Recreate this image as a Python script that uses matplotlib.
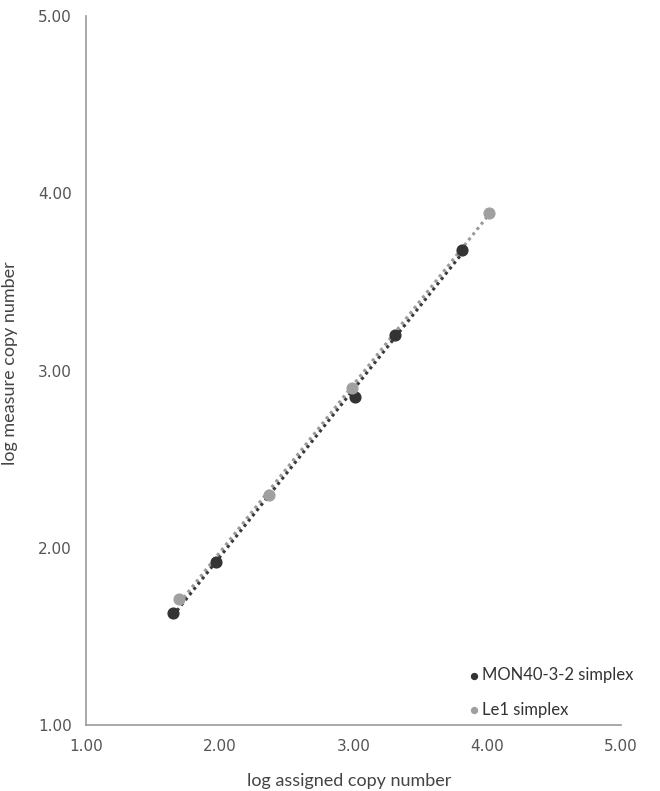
import numpy as np
import matplotlib
matplotlib.use('Agg')
import matplotlib.pyplot as plt

# log assigned / measured copy numbers
mon_x = [1.65, 1.97, 3.01, 3.31, 3.81]
mon_y = [1.63, 1.92, 2.85, 3.20, 3.68]
le1_x = [1.70, 2.37, 2.99, 4.01]
le1_y = [1.71, 2.30, 2.90, 3.89]

ticks = [1.0, 2.0, 3.0, 4.0, 5.0]

fig = plt.figure(figsize=(6.6, 7.91), dpi=100)
ax = fig.add_axes([0.130, 0.0834, 0.811, 0.8964])

# trend lines
p = np.polyfit(le1_x, le1_y, 1)
xx = np.array([min(le1_x), max(le1_x)])
ax.plot(xx, np.polyval(p, xx), ls=(0, (1, 1.2)), c='#9a9a9a', lw=2.2, zorder=2)
p = np.polyfit(mon_x, mon_y, 1)
xx = np.array([min(mon_x), max(mon_x)])
ax.plot(xx, np.polyval(p, xx), ls=(0, (1, 1.2)), c='#3a3a3a', lw=2.2, zorder=3)

ax.scatter(mon_x, mon_y, s=60, c='#333333', edgecolors='#333333', label='MON40-3-2 simplex', zorder=4)
ax.scatter(le1_x, le1_y, s=60, c='#a0a0a0', edgecolors='#a0a0a0', label='Le1 simplex', zorder=4)

ax.set_xlim(1, 5)
ax.set_ylim(1, 5)
ax.set_xticks(ticks)
ax.set_yticks(ticks)
ax.set_xticklabels(['%.2f' % t for t in ticks])
ax.set_yticklabels(['%.2f' % t for t in ticks])
ax.tick_params(length=0, labelsize=11, colors='#555555', pad=10)
for s in ['top', 'right']:
    ax.spines[s].set_visible(False)
for s in ['left', 'bottom']:
    ax.spines[s].set_color('#999999')
    ax.spines[s].set_linewidth(1.2)

ax.set_xlabel('log assigned copy number', fontsize=13, color='#444444', family='Lato')
ax.set_ylabel('log measure copy number', fontsize=13, color='#444444', family='Lato')
ax.xaxis.set_label_coords(0.493, -0.068)
ax.yaxis.set_label_coords(-0.127, 0.51)

leg = ax.legend(loc='lower right', bbox_to_anchor=(1.045, -0.006), frameon=False,
                prop={'family': 'Lato', 'size': 12}, markerscale=0.55,
                handlelength=0.6, handletextpad=0.2, labelspacing=1.1, borderaxespad=0.3)
for t in leg.get_texts():
    t.set_color('#333333')

fig.savefig('out.png', dpi=100)
